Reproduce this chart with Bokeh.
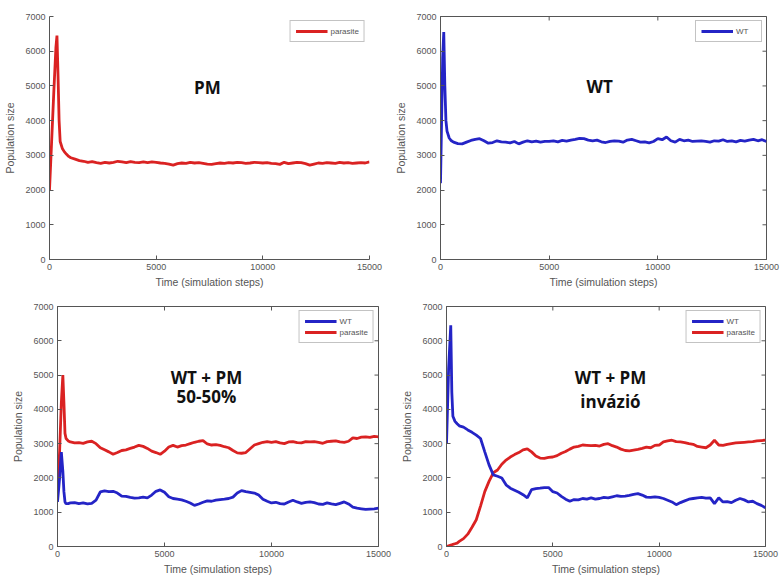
from bokeh.plotting import figure
from bokeh.layouts import column, row
from bokeh.models import Range1d, Label, Legend, LegendItem, FixedTicker
from bokeh.embed import file_html
from bokeh.resources import INLINE

# ---------------- data ----------------
t_steady = list(range(1000, 15001, 200))

# Panel 1: PM (parasite only)
pm_t_early = [0, 100, 200, 300, 350, 400, 450, 500, 600, 700, 800, 900]
pm_v_early = [2000, 3400, 4800, 6100, 6450, 5300, 4000, 3400, 3200, 3100, 3030, 2970]
pm_v_steady = [
    2930, 2890, 2850, 2830, 2800, 2820, 2790, 2770, 2800, 2780,
    2800, 2830, 2810, 2790, 2820, 2800, 2790, 2810, 2790, 2810,
    2800, 2780, 2770, 2750, 2720, 2760, 2780, 2770, 2800, 2780,
    2790, 2770, 2750, 2740, 2760, 2780, 2770, 2790, 2780, 2800,
    2790, 2770, 2780, 2800, 2790, 2780, 2790, 2770, 2760, 2740,
    2800, 2760, 2780, 2800, 2790, 2760, 2720, 2750, 2780, 2770,
    2790, 2780, 2770, 2800, 2780, 2790, 2770, 2780, 2790, 2780,
    2810]

# Panel 2: WT only
wt_t_early = [0, 50, 100, 150, 200, 250, 300, 400, 500, 600, 800]
wt_v_early = [2200, 4000, 5800, 6550, 5000, 4000, 3700, 3500, 3420, 3380, 3340]
wt_v_steady = [
    3330, 3380, 3430, 3460, 3480, 3420, 3350, 3370, 3420, 3390,
    3380, 3360, 3400, 3330, 3380, 3420, 3390, 3410, 3380, 3400,
    3400, 3420, 3390, 3430, 3410, 3440, 3460, 3490, 3480, 3440,
    3420, 3440, 3390, 3370, 3400, 3420, 3410, 3380, 3440, 3460,
    3420, 3380, 3390, 3360, 3400, 3480, 3450, 3530, 3420, 3380,
    3460, 3420, 3440, 3400, 3410, 3420, 3400, 3380, 3420, 3410,
    3450, 3400, 3420, 3390, 3430, 3410, 3440, 3460, 3420, 3450,
    3400]

# Panel 3: WT + PM 50-50%
mix_t_early = [0, 100, 180, 250, 300, 350, 400, 500, 600, 800]
mix_par_early = [1500, 2800, 4200, 5000, 4200, 3300, 3150, 3080, 3050, 3020]
mix_wt_early = [1300, 2000, 2750, 2200, 1600, 1300, 1250, 1250, 1270, 1280]
mix_par_steady = [
    3030, 3010, 3050, 3070, 3000, 2880, 2820, 2760, 2690, 2740,
    2800, 2820, 2860, 2900, 2950, 2920, 2860, 2780, 2740, 2690,
    2780, 2900, 2950, 2900, 2940, 2960, 3000, 3040, 3070, 3090,
    2990, 2960, 2970, 2950, 2910, 2880, 2800, 2730, 2720, 2740,
    2850, 2960, 3000, 3040, 3060, 3040, 3060, 3020, 3000, 3050,
    3060, 3030, 3020, 3060, 3050, 3060, 3040, 3010, 3060, 3070,
    3080, 3050, 3040, 3070, 3170, 3150, 3190, 3200, 3180, 3210,
    3200]
mix_wt_steady = [
    1250, 1270, 1240, 1260, 1350, 1590, 1620, 1600, 1610, 1560,
    1470, 1460, 1430, 1410, 1420, 1440, 1420, 1500, 1610, 1650,
    1580, 1450, 1400, 1380, 1360, 1320, 1270, 1200, 1240, 1290,
    1330, 1320, 1350, 1370, 1380, 1400, 1440, 1560, 1630, 1600,
    1580, 1560, 1500, 1380, 1320, 1270, 1290, 1250, 1240, 1300,
    1350, 1300, 1260, 1290, 1300, 1280, 1240, 1230, 1270, 1240,
    1220, 1260, 1300, 1240, 1150, 1120, 1100, 1080, 1090, 1100,
    1120]

# Panel 4: WT + PM invasion
inv_t_early = [0, 100, 200, 250, 300, 400, 500, 600, 800]
inv_wt_early = [3000, 5200, 6450, 4500, 3800, 3650, 3580, 3520, 3480]
inv_par_early = [0, 20, 40, 50, 60, 80, 100, 150, 230]
inv_wt_steady = [
    3400, 3330, 3250, 3150, 2760, 2380, 2090, 2050, 2000, 1800,
    1700, 1640, 1580, 1510, 1420, 1660, 1690, 1700, 1720, 1720,
    1600, 1560, 1460, 1380, 1320, 1370, 1360, 1400, 1380, 1420,
    1380, 1400, 1430, 1420, 1450, 1480, 1460, 1470, 1490, 1520,
    1540, 1500, 1440, 1430, 1450, 1430, 1400, 1350, 1300, 1220,
    1280, 1330, 1380, 1400, 1420, 1430, 1410, 1420, 1250, 1420,
    1300, 1310, 1280, 1350, 1400, 1360, 1300, 1320, 1250, 1200,
    1130]
inv_par_steady = [
    360, 560, 780, 1180, 1600, 1900, 2150, 2230, 2400, 2520,
    2610, 2680, 2740, 2820, 2850, 2760, 2640, 2580, 2570, 2600,
    2610, 2650, 2720, 2770, 2840, 2900, 2920, 2960, 2950, 2940,
    2950, 2930, 2980, 3000, 2940, 2900, 2840, 2800, 2790, 2810,
    2830, 2860, 2900, 2880, 2950, 2960, 3050, 3080, 3100, 3060,
    3050, 3030, 3000, 2980, 2920, 2900, 2880, 2960, 3100, 2960,
    2950, 2980, 3000, 3020, 3030, 3040, 3050, 3060, 3080, 3090,
    3100]

x_ticks = [0, 5000, 10000, 15000]
y_ticks = [0, 1000, 2000, 3000, 4000, 5000, 6000, 7000]
X_MAX = 15000
Y_MAX = 7000

RED = "#da2222"
BLUE = "#2424c6"
AX = "#555555"
TXT = "#555555"
AXFONT = "Liberation Sans"
BIGFONT = "Open Sans"


def make_panel(w, h, bl, br, bt, bb, box):
    p = figure(width=w, height=h, output_backend="svg", toolbar_location=None,
               x_range=Range1d(0, X_MAX), y_range=Range1d(0, Y_MAX),
               min_border_left=bl, min_border_right=br,
               min_border_top=bt, min_border_bottom=bb)
    p.background_fill_color = "white"
    p.border_fill_color = "white"
    p.grid.visible = False
    p.outline_line_color = AX if box else None
    for ax, ticks in ((p.xaxis[0], x_ticks), (p.yaxis[0], y_ticks)):
        ax.ticker = FixedTicker(ticks=ticks)
        ax.minor_tick_line_color = None
        ax.major_tick_in = 4
        ax.major_tick_out = 0
        ax.axis_line_color = AX
        ax.major_tick_line_color = AX
        ax.major_label_text_font = AXFONT
        ax.major_label_text_font_size = "9px"
        ax.major_label_text_color = TXT
        ax.axis_label_text_font = AXFONT
        ax.axis_label_text_font_size = "10.5px"
        ax.axis_label_text_font_style = "normal"
        ax.axis_label_text_color = TXT
    p.xaxis.axis_label = "Time (simulation steps)"
    p.yaxis.axis_label = "Population size"
    p.xaxis.major_label_standoff = 4
    p.xaxis.axis_label_standoff = 3
    p.yaxis.major_label_standoff = 4
    p.yaxis.axis_label_standoff = 6
    if box:
        # inward tick marks on the right and top edges of the box
        p.scatter([X_MAX] * len(y_ticks), y_ticks, marker="dash", size=8,
                  line_color=AX, line_width=1)
        p.scatter(x_ticks, [Y_MAX] * len(x_ticks), marker="dash", size=8, angle=1.5708,
                  line_color=AX, line_width=1)
    return p


def add_legend(p, items):
    leg = Legend(items=items, location="top_right", margin=4, padding=5,
                 spacing=1, glyph_width=32, glyph_height=10,
                 label_text_font=AXFONT, label_text_font_size="8px",
                 label_text_color=TXT, label_standoff=3,
                 border_line_color="#888888", border_line_width=1,
                 background_fill_color="white", label_height=10)
    p.add_layout(leg)


def big_label(p, x, y, text):
    p.add_layout(Label(x=x, y=y, text=text, text_align="center", text_baseline="middle",
                       text_font=BIGFONT, text_font_size="17px", text_font_style="bold",
                       text_color="#111111"))


LW = 2.8

# Panel 1
p1 = make_panel(391, 290, 49, 22, 16, 31, False)
r1 = p1.line(pm_t_early + t_steady, pm_v_early + pm_v_steady, color=RED, line_width=LW)
add_legend(p1, [LegendItem(label="parasite", renderers=[r1])])
big_label(p1, 7400, 4955, "PM")

# Panel 2
p2 = make_panel(389, 290, 49, 14, 16, 27, True)
r2 = p2.line(wt_t_early + t_steady, wt_v_early + wt_v_steady, color=BLUE, line_width=LW)
add_legend(p2, [LegendItem(label="WT", renderers=[r2])])
big_label(p2, 7320, 4990, "WT")

# Panel 3
p3 = make_panel(398, 287, 57, 20, 16, 28, True)
r3p = p3.line(mix_t_early + t_steady, mix_par_early + mix_par_steady, color=RED, line_width=LW)
r3w = p3.line(mix_t_early + t_steady, mix_wt_early + mix_wt_steady, color=BLUE, line_width=LW)
add_legend(p3, [LegendItem(label="WT", renderers=[r3w]),
                LegendItem(label="parasite", renderers=[r3p])])
big_label(p3, 6960, 4925, "WT + PM")
big_label(p3, 6960, 4380, "50-50%")

# Panel 4
p4 = make_panel(382, 287, 48, 15, 16, 28, True)
r4p = p4.line(inv_t_early + t_steady, inv_par_early + inv_par_steady, color=RED, line_width=LW)
r4w = p4.line(inv_t_early + t_steady, inv_wt_early + inv_wt_steady, color=BLUE, line_width=LW)
add_legend(p4, [LegendItem(label="WT", renderers=[r4w]),
                LegendItem(label="parasite", renderers=[r4p])])
big_label(p4, 7710, 4925, "WT + PM")
big_label(p4, 7710, 4235, "invázió")

layout = column(row(p1, p2), row(p3, p4))
open("out.html", "w").write(file_html(layout, INLINE))
